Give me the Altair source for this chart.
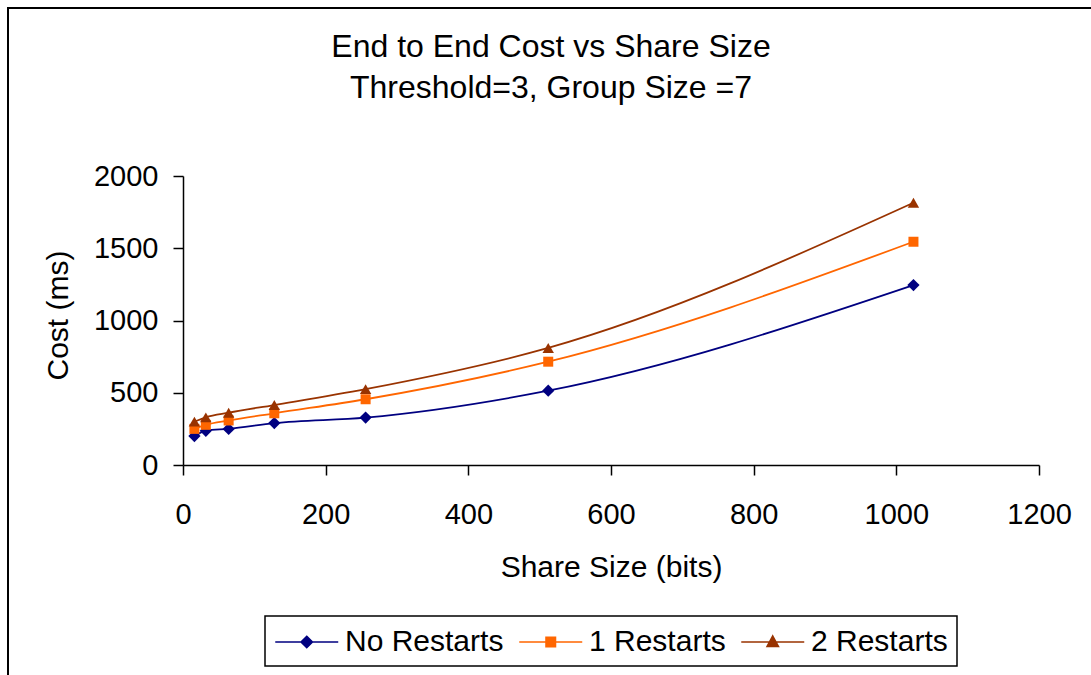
import altair as alt
import pandas as pd

# ---- data ----
share_size = [16, 32, 64, 128, 256, 512, 1024]
series_names = ["No Restarts", "1 Restarts", "2 Restarts"]
no_restarts = [200, 237, 250, 290, 328, 514, 1245]
one_restart = [250, 278, 308, 358, 455, 715, 1545]
two_restarts = [300, 330, 362, 415, 525, 810, 1815]
series_colors = ["#000080", "#FF6600", "#993300"]
marker_shapes = ["diamond", "square", "triangle-up"]
marker_sizes = [150, 100, 130]
x_ticks = [0, 200, 400, 600, 800, 1000, 1200]
y_ticks = [0, 500, 1000, 1500, 2000]
title_lines = ["End to End Cost vs Share Size", "Threshold=3, Group Size =7"]

# legend symbols: a line with the series marker in its middle
legend_paths = [
    "M-1,0L3,0M1,-0.36L1.36,0L1,0.36L0.64,0Z",
    "M-1,0L3,0M0.7,-0.3L1.3,-0.3L1.3,0.3L0.7,0.3Z",
    "M-1,0L3,0M1,-0.38L1.36,0.28L0.64,0.28Z",
]

rows = []
for name, vals in zip(series_names, [no_restarts, one_restart, two_restarts]):
    for xv, yv in zip(share_size, vals):
        rows.append({"size": xv, "cost": yv, "series": name})
df = pd.DataFrame(rows)

FONT = "Liberation Sans"

x_enc = alt.X(
    "size:Q",
    scale=alt.Scale(domain=[0, 1200], nice=False, zero=True),
    axis=alt.Axis(
        values=x_ticks, title="Share Size (bits)", grid=False, format="d",
        labelPadding=25, titleY=111, titleBaseline="alphabetic",
        titleAlign="center",
    ),
)
y_enc = alt.Y(
    "cost:Q",
    scale=alt.Scale(domain=[0, 2000], nice=False),
    axis=alt.Axis(
        values=y_ticks, title="Cost (ms)", grid=False, format="d",
        labelPadding=15, titleX=-116, titleY=139, titleAngle=-90,
        titleBaseline="alphabetic", titleAlign="center",
    ),
)

base = alt.Chart(df)

frame = alt.Chart(pd.DataFrame({"k": [0]})).mark_rect(
    fill=None, stroke="black", strokeWidth=2, clip=False
).encode(
    x=alt.value(-175), x2=alt.value(930), y=alt.value(-168), y2=alt.value(520)
)

title_text = alt.Chart(pd.DataFrame({"k": [0]})).mark_text(
    text=title_lines, font=FONT, fontSize=32, lineHeight=41, color="black",
    align="center", baseline="top", clip=False,
).encode(x=alt.value(368), y=alt.value(-144))

line_layers = []
point_layers = []
for name, col, shp, sz in zip(series_names, series_colors, marker_shapes, marker_sizes):
    sub = base.transform_filter(alt.datum.series == name)
    line_layers.append(
        sub.mark_line(strokeWidth=1.8, interpolate="monotone", color=col).encode(
            x=x_enc, y=y_enc
        )
    )
    point_layers.append(
        sub.mark_point(shape=shp, filled=True, size=sz, opacity=1, color=col).encode(
            x=x_enc, y=y_enc
        )
    )

legend_def = alt.Legend(
    title=None, orient="none", legendX=82, legendY=440, direction="horizontal",
)

# layer that only provides the legend (its points are fully transparent)
legend_layer = base.transform_calculate(hide="0").mark_point(
    filled=True, size=992, strokeWidth=1.6
).encode(
    x=x_enc, y=y_enc,
    opacity=alt.Opacity("hide:Q", scale=None, legend=None),
    shape=alt.Shape("series:N",
                    scale=alt.Scale(domain=series_names, range=legend_paths),
                    legend=legend_def),
    fill=alt.Fill("series:N",
                  scale=alt.Scale(domain=series_names, range=series_colors),
                  legend=legend_def),
    stroke=alt.Stroke("series:N",
                      scale=alt.Scale(domain=series_names, range=series_colors),
                      legend=legend_def),
)

chart = alt.layer(frame, title_text, *line_layers, *point_layers, legend_layer).properties(
    width=856,
    height=289,
    autosize=alt.AutoSizeParams(type="none"),
    padding={"left": 183, "top": 176, "right": 52, "bottom": 210},
).configure(
    background="white",
).configure_view(
    stroke=None,
).configure_axis(
    domainColor="black", domainWidth=1.5, tickColor="black", tickWidth=1.5,
    tickSize=10, labelFont=FONT, labelFontSize=29, labelColor="black",
    titleFont=FONT, titleFontSize=30, titleColor="black", titleFontWeight="normal",
    labelFlush=False, labelOverlap=False,
).configure_legend(
    padding=9, strokeColor="black", strokeWidth=1.5, fillColor="white",
    labelFont=FONT, labelFontSize=30, labelColor="black", labelLimit=400,
    labelOffset=37, columnPadding=12, symbolStrokeWidth=1.6, symbolOpacity=1,
    symbolSize=992,
)

chart.save("out.html", embed_options={"renderer": "svg", "actions": False})
